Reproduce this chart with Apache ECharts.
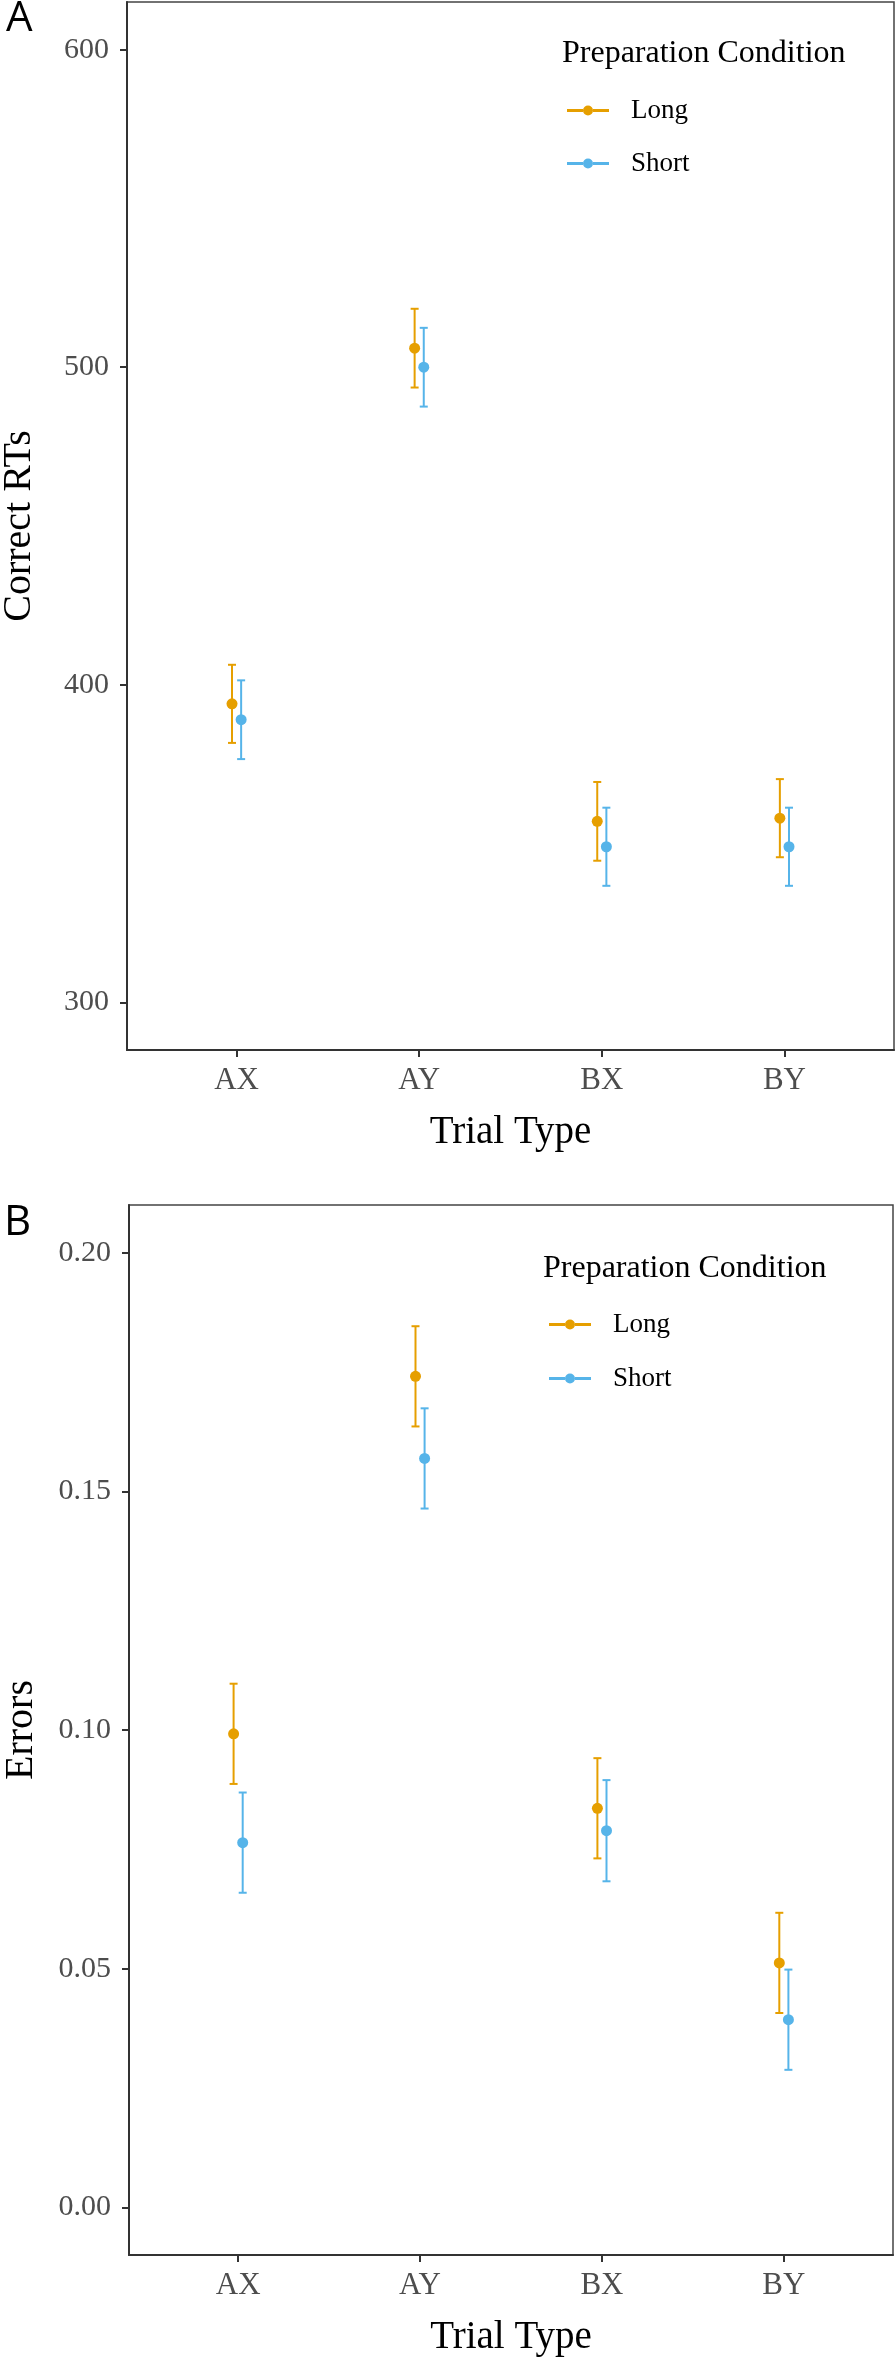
<!DOCTYPE html>
<html><head><meta charset="utf-8">
<script src="https://cdn.jsdelivr.net/npm/echarts@6/dist/echarts.min.js"></script>
<style>html,body{margin:0;padding:0;background:#fff}#c{width:896px;height:2357px}</style>
</head><body><div id="c"></div>
<script>
// ---- data ----
const categories = ['AX', 'AY', 'BX', 'BY'];
const catPositions = [1, 2, 3, 4];
const conditions = ['Long', 'Short'];
const rtLong = [394, 506, 357, 358];
const rtLongSE = [12.3, 12.4, 12.4, 12.3];
const rtShort = [389, 500, 349, 349];
const rtShortSE = [12.4, 12.4, 12.3, 12.3];
const errLong = [0.0992, 0.1741, 0.0836, 0.0512];
const errLongSE = [0.0105, 0.0105, 0.0105, 0.0105];
const errShort = [0.0764, 0.1569, 0.0789, 0.0393];
const errShortSE = [0.0105, 0.0105, 0.0106, 0.0105];
const rtTicks = [300, 400, 500, 600];
const errTicks = [0, 0.05, 0.10, 0.15, 0.20];

// ---- style ----
const colors = { Long: '#E69F00', Short: '#56B4E9' };
const dodge = { Long: -0.025, Short: 0.025 };
const SERIF = 'Liberation Serif';
const SANS = 'Open Sans';
const legendIcon = 'path://M0,3.6L16,3.6L16,6.4L0,6.4Z M26,3.6L42,3.6L42,6.4L26,6.4Z M16,5A5,5,0,1,1,26,5A5,5,0,1,1,16,5Z';

function makeSeries(idx, name, means, ses) {
  const pts = means.map((m, i) => [catPositions[i] + dodge[name], m]);
  const bars = means.map((m, i) => [catPositions[i] + dodge[name], m - ses[i], m + ses[i]]);
  return [
    {
      type: 'custom', name: name, xAxisIndex: idx, yAxisIndex: idx, data: bars,
      itemStyle: { color: colors[name] }, encode: { x: 0, y: [1, 2] }, z: 2,
      renderItem: function (params, api) {
        const x = api.value(0);
        const lo = api.coord([x, api.value(1)]);
        const hi = api.coord([x, api.value(2)]);
        const hw = 4;
        const style = { stroke: colors[name], lineWidth: 2, fill: null };
        return {
          type: 'group', children: [
            { type: 'line', shape: { x1: lo[0], y1: lo[1], x2: hi[0], y2: hi[1] }, style: style },
            { type: 'line', shape: { x1: lo[0] - hw, y1: lo[1], x2: lo[0] + hw, y2: lo[1] }, style: style },
            { type: 'line', shape: { x1: hi[0] - hw, y1: hi[1], x2: hi[0] + hw, y2: hi[1] }, style: style }
          ]
        };
      }
    },
    {
      type: 'scatter', name: name, xAxisIndex: idx, yAxisIndex: idx, data: pts,
      symbol: 'circle', symbolSize: 11, itemStyle: { color: colors[name], opacity: 1 }, z: 3
    }
  ];
}

function xAxisDef(idx) {
  return {
    type: 'value', gridIndex: idx, min: 0.4, max: 4.6, position: 'bottom',
    name: 'Trial Type', nameLocation: 'middle', nameGap: 63,
    nameTextStyle: { fontFamily: SERIF, fontSize: 39, color: '#000' },
    axisLine: { show: true, onZero: false, lineStyle: { color: '#333', width: 2 } },
    axisTick: { show: true, customValues: catPositions, length: 7, lineStyle: { color: '#333', width: 2 } },
    axisLabel: {
      customValues: catPositions, margin: 15,
      formatter: v => categories[Math.round(v) - 1] || '',
      fontFamily: SERIF, fontSize: 31, color: '#4D4D4D'
    },
    splitLine: { show: false }
  };
}

function yAxisDef(idx, name, min, max, ticks, fmt) {
  return {
    type: 'value', gridIndex: idx, min: min, max: max, position: 'left',
    name: name, nameLocation: 'middle', nameGap: 88,
    nameTextStyle: { fontFamily: SERIF, fontSize: 40, color: '#000' },
    axisLine: { show: true, onZero: false, lineStyle: { color: '#333', width: 2 } },
    axisTick: { show: true, customValues: ticks, length: 7, lineStyle: { color: '#333', width: 2 } },
    axisLabel: {
      customValues: ticks, margin: 18, formatter: fmt,
      fontFamily: SERIF, fontSize: 30, color: '#4D4D4D'
    },
    splitLine: { show: false }
  };
}

const chart = echarts.init(document.getElementById('c'), null, { renderer: 'canvas' });
chart.setOption({
  backgroundColor: '#fff',
  animation: false,
  title: [
    { text: 'A', left: 6, top: -2, padding: 0, textStyle: { fontFamily: SANS, fontSize: 42, fontWeight: 'normal', color: '#000', lineHeight: 42 } },
    { text: 'B', left: 4, top: 1202, padding: 0, textStyle: { fontFamily: SANS, fontSize: 42, fontWeight: 'normal', color: '#000', lineHeight: 42 } },
    { text: 'Preparation Condition', left: 562, top: 38, padding: 0, textStyle: { fontFamily: SERIF, fontSize: 32, fontWeight: 'normal', color: '#000', lineHeight: 32 } },
    { text: 'Preparation Condition', left: 543, top: 1253, padding: 0, textStyle: { fontFamily: SERIF, fontSize: 32, fontWeight: 'normal', color: '#000', lineHeight: 32 } }
  ],
  legend: [
    {
      data: conditions, orient: 'vertical', left: 567, top: 97, padding: 0,
      itemWidth: 42, itemHeight: 10, itemGap: 26, icon: legendIcon, selectedMode: false,
      textStyle: { fontFamily: SERIF, fontSize: 27, color: '#000', lineHeight: 26, padding: [0, 0, 0, 17] }
    },
    {
      data: conditions, orient: 'vertical', left: 549, top: 1311, padding: 0,
      itemWidth: 42, itemHeight: 10, itemGap: 27, icon: legendIcon, selectedMode: false,
      textStyle: { fontFamily: SERIF, fontSize: 27, color: '#000', lineHeight: 26, padding: [0, 0, 0, 17] }
    }
  ],
  grid: [
    { left: 127, right: 2, top: 2, height: 1048, outerBoundsMode: 'none', containLabel: false, show: true, borderColor: '#444', borderWidth: 1.5, backgroundColor: 'transparent' },
    { left: 129, right: 3, top: 1205, height: 1050, outerBoundsMode: 'none', containLabel: false, show: true, borderColor: '#444', borderWidth: 1.5, backgroundColor: 'transparent' }
  ],
  xAxis: [xAxisDef(0), xAxisDef(1)],
  yAxis: [
    yAxisDef(0, 'Correct RTs', 285, 615, rtTicks, v => String(Math.round(v))),
    yAxisDef(1, 'Errors', -0.01, 0.21, errTicks, v => v.toFixed(2))
  ],
  series: [].concat(
    makeSeries(0, 'Long', rtLong, rtLongSE),
    makeSeries(0, 'Short', rtShort, rtShortSE),
    makeSeries(1, 'Long', errLong, errLongSE),
    makeSeries(1, 'Short', errShort, errShortSE)
  )
});
</script>
</body></html>
